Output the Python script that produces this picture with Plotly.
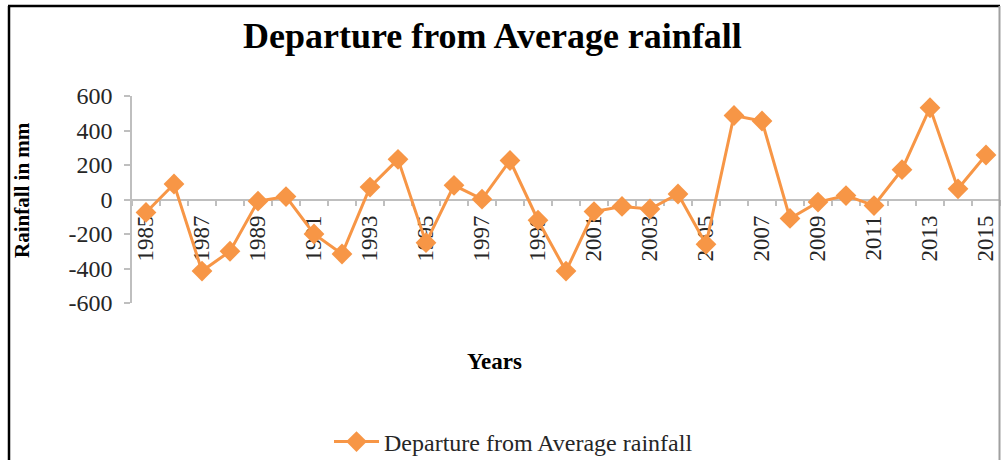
import plotly.graph_objects as go

years = list(range(1985, 2016))
departure = [-75, 90, -415, -300, -10, 17, -200, -316, 72, 233, -250, 82, 2, 226,
             -120, -415, -70, -40, -55, 32, -260, 487, 455, -110, -15, 23, -35, 173,
             532, 62, 258]
tick_years = list(range(1985, 2016, 2))
y_ticks = [-600, -400, -200, 0, 200, 400, 600]
y_tick_text = ["-600", "-400", "-200", "0", "200", "400", "600"]
boundaries = [y - 0.5 for y in range(1985, 2017)]

orange = "#F79646"
axis_gray = "#BFBFBF"
serif = "Liberation Serif, Times New Roman, serif"

fig = go.Figure()
fig.add_trace(go.Scatter(
    x=years, y=departure, mode="lines+markers",
    name="Departure from Average rainfall",
    line=dict(color=orange, width=3),
    marker=dict(symbol="diamond", size=16, color=orange),
))

W, H = 1002, 460
L, R, T, B = 132, 2, 96, 157
pw = W - L - R
ph = H - T - B

def px(x):
    return (x - L) / pw

def py(y):
    return (H - B - y) / ph

fig.update_layout(
    width=W, height=H,
    margin=dict(l=L, r=R, t=T, b=B, autoexpand=False),
    paper_bgcolor="white", plot_bgcolor="white",
    font=dict(family=serif, color="#262626", size=21),
    showlegend=True,
    legend=dict(x=px(329), y=py(442), xanchor="left", yanchor="middle",
                font=dict(family=serif, size=24, color="#262626"),
                bgcolor="rgba(0,0,0,0)", itemwidth=45),
    xaxis=dict(
        range=[1984.5, 2015.5], anchor="free", position=0.5,
        tickmode="array", tickvals=tick_years,
        ticktext=[str(y) for y in tick_years],
        tickangle=-90, ticks="", showgrid=False, zeroline=False,
        showline=True, linecolor=axis_gray, linewidth=1.5,
        tickfont=dict(family=serif, size=23, color="#262626"),
        ticklabelstandoff=6,
        minor=dict(tickmode="array", tickvals=boundaries, ticks="outside",
                   ticklen=6, tickcolor=axis_gray, tickwidth=1.5, showgrid=False),
        layer="below traces",
    ),
    yaxis=dict(
        range=[-600, 600], tickmode="array", tickvals=y_ticks, ticktext=y_tick_text,
        ticks="outside", ticklen=6, tickcolor=axis_gray, tickwidth=1.5,
        showline=True, linecolor=axis_gray, linewidth=1.5,
        showgrid=False, zeroline=False,
        tickfont=dict(family=serif, size=24, color="#262626"),
        ticklabelstandoff=7,
    ),
    annotations=[
        dict(text="<b>Departure from Average rainfall</b>", x=px(492), y=py(36),
             xref="paper", yref="paper", xanchor="center", yanchor="middle",
             showarrow=False, font=dict(family=serif, size=36, color="black")),
        dict(text="<b>Years</b>", x=px(494), y=py(361), xref="paper", yref="paper",
             xanchor="center", yanchor="middle",
             showarrow=False, font=dict(family=serif, size=23, color="black")),
        dict(text="<b>Rainfall in mm</b>", x=px(22), y=py(190), xref="paper",
             yref="paper", xanchor="center", yanchor="middle",
             showarrow=False, textangle=-90,
             font=dict(family=serif, size=21, color="black")),
    ],
    shapes=[
        dict(type="line", xref="paper", yref="paper", x0=px(9), x1=px(9),
             y0=py(6), y1=py(462), line=dict(color="black", width=2.5)),
        dict(type="line", xref="paper", yref="paper", x0=px(8), x1=px(1000),
             y0=py(6), y1=py(6), line=dict(color="black", width=2.5)),
        dict(type="line", xref="paper", yref="paper", x0=px(999.5), x1=px(999.5),
             y0=py(6), y1=py(462), line=dict(color="#A0A0A0", width=2)),
    ],
)

fig.write_html("out.html")
